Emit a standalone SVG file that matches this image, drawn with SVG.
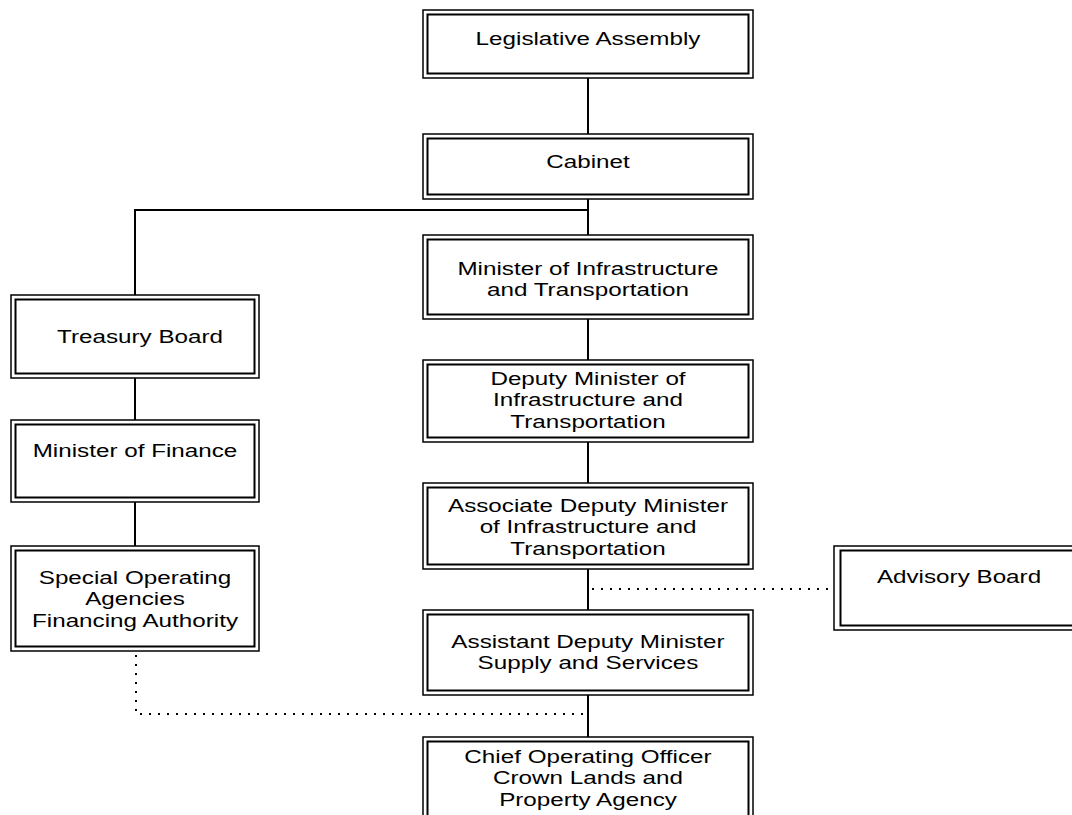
<svg xmlns="http://www.w3.org/2000/svg" width="1072" height="815" viewBox="0 0 1072 815">
<style>
.o{fill:#fff;stroke:#000;stroke-width:1.5}
.i{fill:none;stroke:#000;stroke-width:2}
.t{font-family:"Liberation Sans",Arial,sans-serif;font-size:18.5px;fill:#000;text-anchor:middle}
.c{fill:none;stroke:#000;stroke-width:2}
.d{fill:none;stroke:#000;stroke-width:2;stroke-dasharray:2 7}
</style>
<rect width="1072" height="815" fill="#fff"/>
<g id="connectors">
<path class="c" d="M588 78V134M588 199V235M588 210H135V295M588 319V360M588 442V483M588 569V610M588 695V737M135 378V420M135 502V546"/>
<path class="d" d="M592 589H834"/>
<path class="d" d="M136 655V714H588"/>
</g>
<g id="legislative-assembly">
<rect class="o" x="423" y="10" width="330" height="68"/>
<rect class="i" x="427.5" y="14.5" width="321" height="59"/>
<text class="t" transform="translate(588,45) scale(1.31,1)"><tspan x="0" y="0">Legislative Assembly</tspan></text>
</g>
<g id="cabinet">
<rect class="o" x="423" y="134" width="330" height="65"/>
<rect class="i" x="427.5" y="138.5" width="321" height="56"/>
<text class="t" transform="translate(588,168) scale(1.31,1)"><tspan x="0" y="0">Cabinet</tspan></text>
</g>
<g id="minister-infrastructure">
<rect class="o" x="423" y="235" width="330" height="84"/>
<rect class="i" x="427.5" y="239.5" width="321" height="75"/>
<text class="t" transform="translate(588,275) scale(1.31,1)"><tspan x="0" y="0">Minister of Infrastructure</tspan><tspan x="0" y="21">and Transportation</tspan></text>
</g>
<g id="deputy-minister">
<rect class="o" x="423" y="360" width="330" height="82"/>
<rect class="i" x="427.5" y="364.5" width="321" height="73"/>
<text class="t" transform="translate(588,385) scale(1.31,1)"><tspan x="0" y="0">Deputy Minister of</tspan><tspan x="0" y="21.5">Infrastructure and</tspan><tspan x="0" y="43">Transportation</tspan></text>
</g>
<g id="associate-deputy-minister">
<rect class="o" x="423" y="483" width="330" height="86"/>
<rect class="i" x="427.5" y="487.5" width="321" height="77"/>
<text class="t" transform="translate(588,512) scale(1.31,1)"><tspan x="0" y="0">Associate Deputy Minister</tspan><tspan x="0" y="21.5">of Infrastructure and</tspan><tspan x="0" y="43">Transportation</tspan></text>
</g>
<g id="assistant-deputy-minister">
<rect class="o" x="423" y="610" width="330" height="85"/>
<rect class="i" x="427.5" y="614.5" width="321" height="76"/>
<text class="t" transform="translate(588,648) scale(1.31,1)"><tspan x="0" y="0">Assistant Deputy Minister</tspan><tspan x="0" y="21.5">Supply and Services</tspan></text>
</g>
<g id="chief-operating-officer">
<rect class="o" x="423" y="737" width="330" height="95"/>
<rect class="i" x="427.5" y="741.5" width="321" height="86"/>
<text class="t" transform="translate(588,763) scale(1.31,1)"><tspan x="0" y="0">Chief Operating Officer</tspan><tspan x="0" y="21.5">Crown Lands and</tspan><tspan x="0" y="43">Property Agency</tspan></text>
</g>
<g id="treasury-board">
<rect class="o" x="11" y="295" width="248" height="83"/>
<rect class="i" x="15.5" y="299.5" width="239" height="74"/>
<text class="t" transform="translate(140,343) scale(1.31,1)"><tspan x="0" y="0">Treasury Board</tspan></text>
</g>
<g id="minister-finance">
<rect class="o" x="11" y="420" width="248" height="82"/>
<rect class="i" x="15.5" y="424.5" width="239" height="73"/>
<text class="t" transform="translate(135,457) scale(1.31,1)"><tspan x="0" y="0">Minister of Finance</tspan></text>
</g>
<g id="special-operating-agencies">
<rect class="o" x="11" y="546" width="248" height="105"/>
<rect class="i" x="15.5" y="550.5" width="239" height="96"/>
<text class="t" transform="translate(135,584) scale(1.31,1)"><tspan x="0" y="0">Special Operating</tspan><tspan x="0" y="21.5">Agencies</tspan><tspan x="0" y="43">Financing Authority</tspan></text>
</g>
<g id="advisory-board">
<rect class="o" x="834" y="546" width="250" height="84"/>
<rect class="i" x="840.5" y="550.5" width="241" height="75"/>
<text class="t" transform="translate(959,583) scale(1.31,1)"><tspan x="0" y="0">Advisory Board</tspan></text>
</g>
</svg>
